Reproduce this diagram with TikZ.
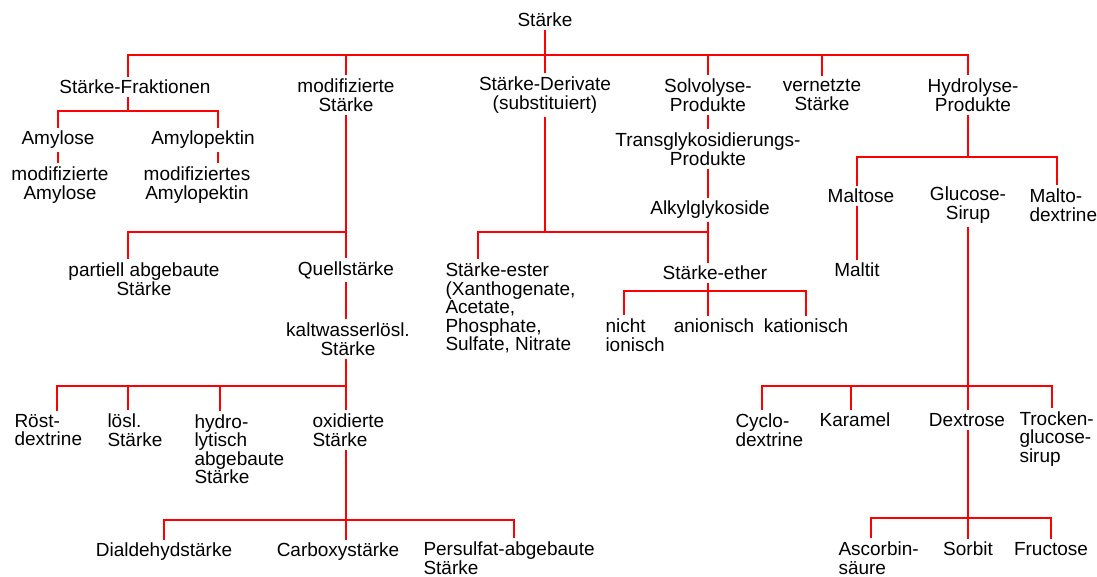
\documentclass[tikz,border=0pt]{standalone}
\usepackage{fontspec}
\setmainfont{Liberation Sans}

\begin{document}
\begin{tikzpicture}[x=1pt,y=-1pt,
  lbl/.style={inner sep=3.5pt,outer sep=0pt,font=\fontsize{19}{18.5}\selectfont,align=center},
  lft/.style={lbl,align=left,anchor=west},
  link/.style={draw=red,line width=2.8pt}]
\useasboundingbox (0,0) rectangle (1097,576);

\node[lbl] (root) at (545,20) {Stärke};

\node[lbl] (frak) at (135,87) {Stärke-Fraktionen};
\node[lbl] (modst) at (346,95) {modifizierte\\Stärke};
\node[lbl] (deriv) at (545,95) {Stärke-Derivate\\(substituiert)};
\node[lbl] (solvo) at (708,95) {Solvolyse-\\Produkte};
\node[lbl] (vernetzt) at (822,95) {vernetzte\\Stärke};
\node[lbl] (hydro) at (973,95) {Hydrolyse-\\Produkte};

\node[lbl] (amylose) at (58,140) {Amylose};
\node[lbl] (apek) at (203,140) {Amylopektin};
\node[lbl] (modamy) at (60,185) {modifizierte\\Amylose};
\node[lbl] (modapek) at (197,185) {modifiziertes\\Amylopektin};

\node[lbl] (partiell) at (144,279) {partiell abgebaute\\Stärke};
\node[lbl] (quell) at (346,270) {Quellstärke};
\node[lbl] (kalt) at (348,339) {kaltwasserlösl.\\Stärke};
\node[lft] (roest) at (11,430) {Röst-\\dextrine};
\node[lft] (loesl) at (104,430) {lösl.\\Stärke};
\node[lft] (hydrolyt) at (191,449) {hydro-\\lytisch\\abgebaute\\Stärke};
\node[lft] (oxid) at (309,430) {oxidierte\\Stärke};
\node[lbl] (dialdehyd) at (164,552) {Dialdehydstärke};
\node[lbl] (carboxy) at (338,552) {Carboxystärke};
\node[lft] (persulfat) at (420,558) {Persulfat-abgebaute\\Stärke};

\node[lft] (ester) at (442,308) {Stärke-ester\\(Xanthogenate,\\Acetate,\\Phosphate,\\Sulfate, Nitrate};
\node[lbl] (trans) at (708,149) {Transglykosidierungs-\\Produkte};
\node[lbl] (alkyl) at (710,210) {Alkylglykoside};
\node[lbl] (ether) at (715,273) {Stärke-ether};
\node[lft] (nicht) at (602,335) {nicht\\ionisch};
\node[lbl] (anion) at (714,326) {anionisch};
\node[lbl] (kation) at (806,326) {kationisch};

\node[lbl] (maltose) at (861,196) {Maltose};
\node[lbl] (glucose) at (968,205) {Glucose-\\Sirup};
\node[lft] (malto) at (1026,205) {Malto-\\dextrine};
\node[lbl] (maltit) at (857,270) {Maltit};
\node[lft] (cyclo) at (732,430) {Cyclo-\\dextrine};
\node[lbl] (karamel) at (855,420) {Karamel};
\node[lbl] (dextrose) at (967,420) {Dextrose};
\node[lft] (trocken) at (1016,439) {Trocken-\\glucose-\\sirup};
\node[lft] (ascorbin) at (835,558) {Ascorbin-\\säure};
\node[lbl] (sorbit) at (968,549) {Sorbit};
\node[lbl] (fructose) at (1051,549) {Fructose};

% junctions
\coordinate (j-root) at (545,55);
\coordinate (j-frak) at (128,111);
\coordinate (j-mod) at (346,232);
\coordinate (j-kalt) at (346,386);
\coordinate (j-oxid) at (346,520);
\coordinate (j-deriv) at (545,232);
\coordinate (j-ether) at (708,291);
\coordinate (j-hydro) at (968,157);
\coordinate (j-gluc) at (968,386);
\coordinate (j-dex) at (968,518);

\draw[link] (root) -- (j-root);
\draw[link] (j-root) -| ([xshift=-7pt]frak.north);
\draw[link] (j-root) -| (modst);
\draw[link] (j-root) -- (deriv);
\draw[link] (j-root) -| (solvo);
\draw[link] (j-root) -| (vernetzt);
\draw[link] (j-root) -| ([xshift=-5pt]hydro.north);

\draw[link] ([xshift=-7pt]frak.south) -- (j-frak);
\draw[link] (j-frak) -| (amylose);
\draw[link] (j-frak) -| ([xshift=15pt]apek.north);
\draw[link] (amylose) -- (amylose |- modamy.north);
\draw[link] ([xshift=15pt]apek.south) -- ([xshift=15pt]apek.south |- modapek.north);

\draw[link] (modst) -- (j-mod);
\draw[link] (j-mod) -| ([xshift=-16pt]partiell.north);
\draw[link] (j-mod) -- (quell);
\draw[link] (quell) -- (quell |- kalt.north);
\draw[link] (kalt.south -| j-kalt) -- (j-kalt);
\draw[link] (j-kalt) -| ([xshift=46pt]roest.north west);
\draw[link] (j-kalt) -| ([xshift=24pt]loesl.north west);
\draw[link] (j-kalt) -| ([xshift=29pt]hydrolyt.north west);
\draw[link] (j-kalt) -- (j-kalt |- oxid.north);
\draw[link] (oxid.south -| j-oxid) -- (j-oxid);
\draw[link] (j-oxid) -| (dialdehyd);
\draw[link] (j-oxid) -- (j-oxid |- carboxy.north);
\draw[link] (j-oxid) -| ([xshift=94pt]persulfat.north west);

\draw[link] (deriv) -- (j-deriv);
\draw[link] ([xshift=36pt]ester.north west) |- (j-deriv) -- (j-deriv -| j-ether);
\draw[link] (solvo) -- (trans);
\draw[link] (trans) -- (trans |- alkyl.north);
\draw[link] (alkyl.south -| j-ether) -- (ether.north -| j-ether);
\draw[link] (ether.south -| j-ether) -- (j-ether);
\draw[link] (j-ether) -| ([xshift=22pt]nicht.north west);
\draw[link] (j-ether) -- (j-ether |- anion.north);
\draw[link] (j-ether) -| (kation);

\draw[link] (hydro.south -| j-hydro) -- (j-hydro);
\draw[link] (j-hydro) -| ([xshift=-4pt]maltose.north);
\draw[link] (j-hydro) -| ([xshift=31pt]malto.north west);
\draw[link] ([xshift=-4pt]maltose.south) -- ([xshift=-4pt]maltose.south |- maltit.north);

\draw[link] (glucose) -- (j-gluc);
\draw[link] (j-gluc) -| ([xshift=30pt]cyclo.north west);
\draw[link] (j-gluc) -| ([xshift=-4pt]karamel.north);
\draw[link] (j-gluc) -- (j-gluc |- dextrose.north);
\draw[link] (j-gluc) -| ([xshift=36pt]trocken.north west);
\draw[link] (dextrose.south -| j-dex) -- (j-dex);
\draw[link] (j-dex) -| ([xshift=36pt]ascorbin.north west);
\draw[link] (j-dex) -- (sorbit);
\draw[link] (j-dex) -| (fructose);
\end{tikzpicture}
\end{document}
